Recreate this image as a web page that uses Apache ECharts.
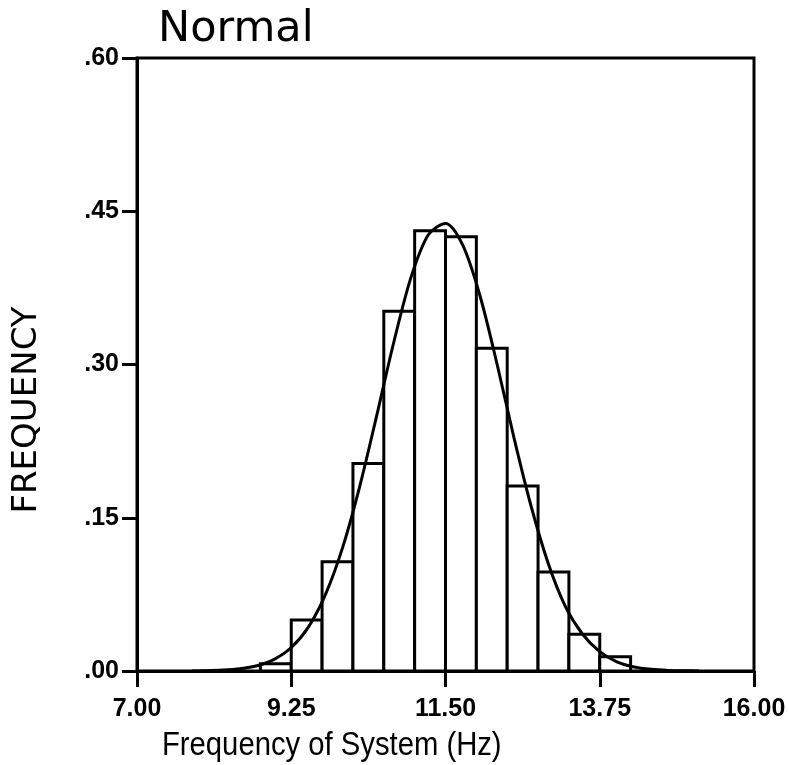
<!DOCTYPE html>
<html>
<head>
<meta charset="utf-8">
<script src="https://cdn.jsdelivr.net/npm/echarts@6/dist/echarts.min.js"></script>
<style>
html,body{margin:0;padding:0;background:#fff;}
#chart{width:789px;height:765px;}
</style>
</head>
<body>
<div id="chart"></div>
<script>
// Histogram bins (Hz) and relative frequency density
const binLeft  = [8.80, 9.25, 9.70, 10.15, 10.60, 11.05, 11.50, 11.95, 12.40, 12.85, 13.30, 13.75];
const binRight = [9.25, 9.70, 10.15, 10.60, 11.05, 11.50, 11.95, 12.40, 12.85, 13.30, 13.75, 14.20];
const freq     = [0.007, 0.050, 0.107, 0.203, 0.352, 0.431, 0.425, 0.316, 0.181, 0.097, 0.036, 0.014];

// Fitted curve, points
const curveX = [7.80, 8.00, 8.25, 8.50, 8.75, 9.00, 9.25, 9.50, 9.75, 10.00, 10.25, 10.50, 10.75, 11.00, 11.25, 11.50, 11.75, 12.00, 12.25, 12.50, 12.75, 13.00, 13.25, 13.50, 13.75, 14.00, 14.25, 14.50, 14.75, 15.00, 15.20];
const curveY = [0.0001, 0.0003, 0.0009, 0.0022, 0.0052, 0.0114, 0.023, 0.043, 0.075, 0.121, 0.181, 0.251, 0.323, 0.386, 0.427, 0.438, 0.417, 0.368, 0.301, 0.228, 0.161, 0.105, 0.063, 0.036, 0.019, 0.009, 0.004, 0.0017, 0.0006, 0.0002, 0.0001];

const xTicks = [7.00, 9.25, 11.50, 13.75, 16.00];
const yTicks = [0.00, 0.15, 0.30, 0.45, 0.60];

const titleText = 'Normal';
const xName = 'Frequency of System (Hz)';
const yName = 'FREQUENCY';

const chart = echarts.init(document.getElementById('chart'), null, {renderer: 'canvas'});
const gLeft = 137, gRight = 35, gTop = 58, gBottom = 94;

chart.setOption({
  backgroundColor: '#fff',
  animation: false,
  title: {
    text: titleText,
    left: 153, top: 3,
    textStyle: {fontFamily: 'DejaVu Sans', fontWeight: 'normal', fontSize: 43, color: '#000'}
  },
  grid: {left: gLeft, right: gRight, top: gTop, bottom: gBottom, show: true, borderColor: '#000', borderWidth: 3, backgroundColor: 'transparent'},
  xAxis: {
    type: 'value',
    min: xTicks[0], max: xTicks[xTicks.length - 1], interval: xTicks[1] - xTicks[0],
    axisLine: {show: true, lineStyle: {color: '#000', width: 3}},
    axisTick: {show: true, inside: false, length: 16, lineStyle: {color: '#000', width: 3}},
    splitLine: {show: false},
    axisLabel: {
      margin: 26, color: '#000', fontFamily: 'Liberation Sans', fontWeight: 'bold', fontSize: 25,
      formatter: v => Number(v).toFixed(2)
    }
  },
  yAxis: {
    type: 'value',
    min: yTicks[0], max: yTicks[yTicks.length - 1], interval: yTicks[1] - yTicks[0],
    axisLine: {show: true, lineStyle: {color: '#000', width: 3}},
    axisTick: {show: true, inside: false, length: 15, lineStyle: {color: '#000', width: 3}},
    splitLine: {show: false},
    axisLabel: {
      margin: 18, color: '#000', fontFamily: 'Liberation Sans', fontWeight: 'bold', fontSize: 25,
      formatter: v => Number(v).toFixed(2).replace(/^0/, '')
    }
  },
  graphic: [
    {type: 'text', x: 27, y: 410, rotation: Math.PI / 2,
     style: {text: yName, fontFamily: 'DejaVu Sans', fontSize: 34, fill: '#000', textAlign: 'center', textVerticalAlign: 'middle'}},
    {type: 'text', x: 162, y: 746, scaleX: 0.86,
     style: {text: xName, fontFamily: 'Liberation Sans', fontSize: 34, fill: '#000', textAlign: 'left', textVerticalAlign: 'middle'}}
  ],
  series: [
    {
      type: 'custom',
      z: 2,
      data: binLeft.map((l, i) => [l, binRight[i], freq[i]]),
      encode: {x: [0, 1], y: 2},
      renderItem: function (params, api) {
        const p0 = api.coord([api.value(0), api.value(2)]);
        const p1 = api.coord([api.value(1), 0]);
        return {
          type: 'rect',
          shape: {x: p0[0], y: p0[1], width: p1[0] - p0[0], height: p1[1] - p0[1]},
          style: {fill: '#fff', stroke: '#000', lineWidth: 3}
        };
      }
    },
    {
      type: 'line',
      z: 3,
      smooth: 0.3,
      showSymbol: false,
      symbol: 'none',
      data: curveX.map((x, i) => [x, curveY[i]]),
      lineStyle: {color: '#000', width: 3}
    }
  ]
});
</script>
</body>
</html>
